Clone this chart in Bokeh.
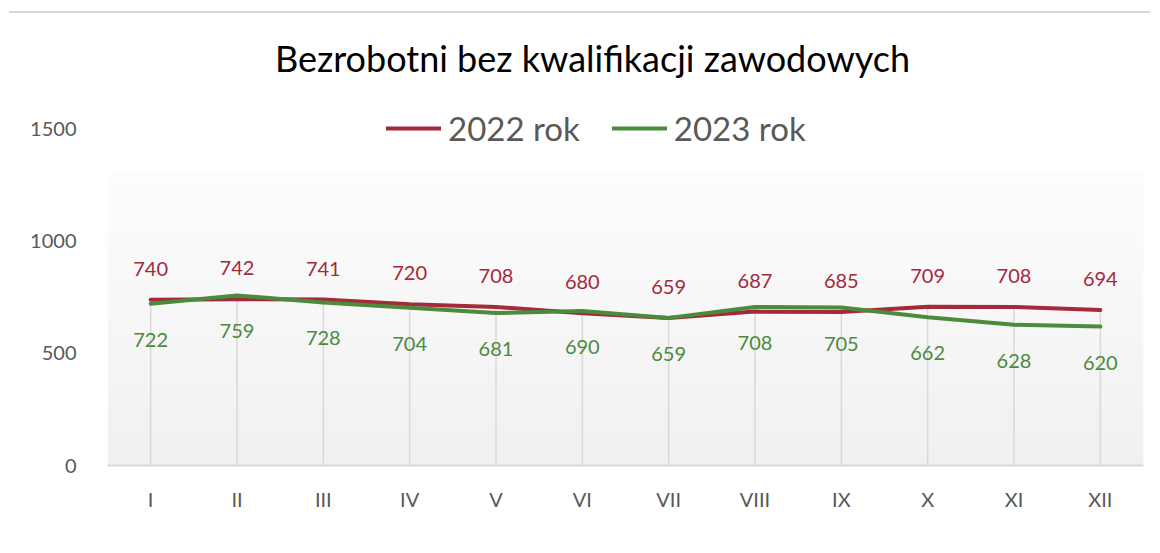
import numpy as np
from bokeh.plotting import figure
from bokeh.models import (ColumnDataSource, FactorRange, Range1d, FixedTicker,
                          LabelSet, Label, Legend, LegendItem)
from bokeh.core.properties import value
from bokeh.embed import file_html
from bokeh.resources import INLINE

# ---- data ----
months = ["I", "II", "III", "IV", "V", "VI", "VII", "VIII", "IX", "X", "XI", "XII"]
y2022 = [740, 742, 741, 720, 708, 680, 659, 687, 685, 709, 708, 694]
y2023 = [722, 759, 728, 704, 681, 690, 659, 708, 705, 662, 628, 620]
series_names = ["2022 rok", "2023 rok"]
y_ticks = [0, 500, 1000, 1500]
title_text = "Bezrobotni bez kwalifikacji zawodowych"

FONT = "Lato"
RED = "#A3293B"
GREEN = "#4C8A3C"
GREY_TXT = "#595959"
GRID = "#d9d9d9"

src = ColumnDataSource(dict(
    m=months, a=y2022, b=y2023,
    zero=[0] * len(months),
    top=[max(u, v) for u, v in zip(y2022, y2023)],
    la=[str(v) for v in y2022], lb=[str(v) for v in y2023],
))

p = figure(width=1150, height=537,
           x_range=FactorRange(factors=months, range_padding=0),
           y_range=Range1d(0, 2058),
           output_backend="svg", toolbar_location=None,
           min_border_left=107, min_border_right=7, min_border_top=4,
           min_border_bottom=72)
# outer chart-area border (only left and top edges fall inside the window)
p.styles = {
    "background": ("linear-gradient(#d9d9d9, #d9d9d9) 9px 11px / 2000px 2px no-repeat, "
                   "white"),
    "border-left": "none",
}
p.background_fill_alpha = 0
p.border_fill_alpha = 0
p.outline_line_color = None
p.xgrid.visible = False
p.ygrid.visible = False

# gradient plot-area background
n = 256
img = np.empty((n, 1), dtype=np.uint32)
view = img.view(dtype=np.uint8).reshape((n, 1, 4))
for i in range(n):
    g = int(round(240 + (253 - 240) * i / (n - 1)))
    view[i, 0, :] = [g, g, g, 255]
p.image_rgba(image=[img], x=0, y=0, dw=len(months), dh=1310)

# drop lines
p.segment(x0="m", y0="zero", x1="m", y1="top", source=src,
          line_color=GRID, line_width=1.5)

r1 = p.line("m", "a", source=src, line_color=RED, line_width=4,
            line_cap="round", line_join="round")
r2 = p.line("m", "b", source=src, line_color=GREEN, line_width=4,
            line_cap="round", line_join="round")

p.add_layout(LabelSet(x="m", y="a", text="la", source=src, y_offset=31,
                      text_align="center", text_baseline="middle",
                      text_color=RED, text_font=value(FONT),
                      text_font_size="20px"))
p.add_layout(LabelSet(x="m", y="b", text="lb", source=src, y_offset=-36,
                      text_align="center", text_baseline="middle",
                      text_color=GREEN, text_font=value(FONT),
                      text_font_size="20px"))

p.add_layout(Label(x=485, y=408, x_units="screen", y_units="screen",
                   text=title_text, text_align="center", text_baseline="middle",
                   text_font=FONT, text_font_size="36px", text_color="#000000"))

legend = Legend(items=[LegendItem(label=series_names[0], renderers=[r1]),
                       LegendItem(label=series_names[1], renderers=[r2])],
                orientation="horizontal", location=(279, 317),
                label_text_font=FONT, label_text_font_size="33px",
                label_text_color=GREY_TXT, glyph_width=55, glyph_height=40,
                label_height=40, label_standoff=7, spacing=32, padding=0,
                margin=0, background_fill_alpha=0, border_line_color=None)
p.add_layout(legend)

# axes
p.xaxis.axis_line_color = GRID
p.xaxis.axis_line_width = 2
p.xaxis.major_tick_line_color = None
p.xaxis.minor_tick_line_color = None
p.xaxis.major_label_text_font = FONT
p.xaxis.major_label_text_font_size = "20px"
p.xaxis.major_label_text_color = GREY_TXT
p.xaxis.major_label_standoff = 15

p.yaxis.ticker = FixedTicker(ticks=y_ticks)
p.yaxis.axis_line_color = None
p.yaxis.major_tick_line_color = None
p.yaxis.minor_tick_line_color = None
p.yaxis.major_label_text_font = FONT
p.yaxis.major_label_text_font_size = "20px"
p.yaxis.major_label_text_color = GREY_TXT
p.yaxis.major_label_standoff = 25

open("out.html", "w").write(file_html(p, INLINE))
